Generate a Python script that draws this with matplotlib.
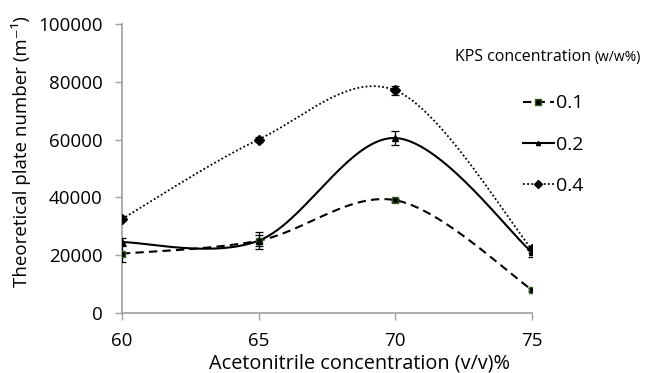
import numpy as np
import matplotlib
matplotlib.use("Agg")
import matplotlib.pyplot as plt
from matplotlib.lines import Line2D

plt.rcParams['font.family'] = ['Open Sans', 'DejaVu Sans']

x_vals = [60, 65, 70, 75]
series_names = ['0.1', '0.2', '0.4']
y_01 = [20500, 25000, 39000, 8000]
y_02 = [24500, 25000, 60500, 21000]
y_04 = [32500, 60000, 77000, 22000]
err_01 = [3000, 2000, 500, 500]
err_02 = [1500, 3000, 2500, 1500]
err_04 = [800, 1000, 1500, 1200]
y_ticks = [0, 20000, 40000, 60000, 80000, 100000]


def excel_smooth(xs, ys, n=60, t=1/6):
    xs = np.asarray(xs, float); ys = np.asarray(ys, float)
    sx = 137/5.0; sy = 289/100000.0
    px = xs*sx; py = ys*sy
    outx, outy = [], []
    N = len(px)
    for i in range(N-1):
        p0 = np.array([px[i-1] if i > 0 else px[i], py[i-1] if i > 0 else py[i]])
        p1 = np.array([px[i], py[i]])
        p2 = np.array([px[i+1], py[i+1]])
        p3 = np.array([px[i+2] if i+2 < N else px[i+1], py[i+2] if i+2 < N else py[i+1]])
        c1 = p1 + (p2 - p0)*t
        c2 = p2 - (p3 - p1)*t
        s = np.linspace(0, 1, n)[:, None]
        b = (1-s)**3*p1 + 3*(1-s)**2*s*c1 + 3*(1-s)*s**2*c2 + s**3*p2
        outx.extend(b[:, 0]); outy.extend(b[:, 1])
    return np.array(outx)/sx, np.array(outy)/sy


fig = plt.figure(figsize=(6.52, 3.73), dpi=100)
ax = fig.add_axes([0.187, 0.161, 0.629, 0.775])

styles = [
    dict(ys=y_01, err=err_01, ls=(0, (4, 2.5)), marker='s', ms=5, mfc='black', mec='#3a5a20', lw=1.5),
    dict(ys=y_02, err=err_02, ls='-', marker='^', ms=4, mfc='black', mec='black', lw=1.5),
    dict(ys=y_04, err=err_04, ls=(0, (1, 1.3)), marker='D', ms=5, mfc='black', mec='black', lw=1.3),
]

handles = []
for name, st in zip(series_names, styles):
    sxs, sys_ = excel_smooth(x_vals, st['ys'])
    ax.plot(sxs, sys_, color='black', ls=st['ls'], lw=st['lw'], zorder=2)
    ax.errorbar(x_vals, st['ys'], yerr=st['err'], fmt='none', ecolor='black',
                elinewidth=0.9, capsize=3, capthick=0.9, zorder=3)
    ax.plot(x_vals, st['ys'], ls='none', marker=st['marker'], ms=st['ms'],
            mfc=st['mfc'], mec=st['mec'], zorder=4)
    handles.append(Line2D([], [], color='black', ls=st['ls'], lw=st['lw'],
                          marker=st['marker'], ms=st['ms'] - 1, mfc=st['mfc'], mec=st['mec']))

ax.set_xlim(60, 75)
ax.set_ylim(0, 100000)
ax.set_xticks(x_vals)
ax.set_yticks(y_ticks)
ax.tick_params(axis='both', labelsize=13.5, color='#a0a0a0', length=5, width=1, direction='out')
ax.tick_params(axis='x', pad=9)
ax.tick_params(axis='y', pad=9)
for side in ['top', 'right']:
    ax.spines[side].set_visible(False)
for side in ['left', 'bottom']:
    ax.spines[side].set_color('#a0a0a0')
    ax.spines[side].set_linewidth(1.2)

ax.set_xlabel('Acetonitrile concentration (v/v)%', fontsize=14.3)
ax.xaxis.set_label_coords(0.58, -0.14)
ax.xaxis.label.set_va('top')
ax.set_ylabel('Theoretical plate number (m\u207b\u00b9)', fontsize=13.5)
ax.yaxis.set_label_coords(-0.222, 0.56)

leg = fig.legend(handles, series_names, loc='upper left', bbox_to_anchor=(0.802, 0.747),
                 frameon=False, fontsize=14, handlelength=1.6, handletextpad=0.1,
                 labelspacing=1.2, borderpad=0, borderaxespad=0)

t1 = fig.text(0.698, 0.847, 'KPS concentration', fontsize=11.5, va='center', ha='left')
fig.canvas.draw()
bb = t1.get_window_extent(renderer=fig.canvas.get_renderer())
x_after = bb.x1 / fig.bbox.width + 0.005
fig.text(x_after, 0.845, '(w/w%)', fontsize=10, va='center', ha='left')

fig.savefig('out.png', dpi=100)
